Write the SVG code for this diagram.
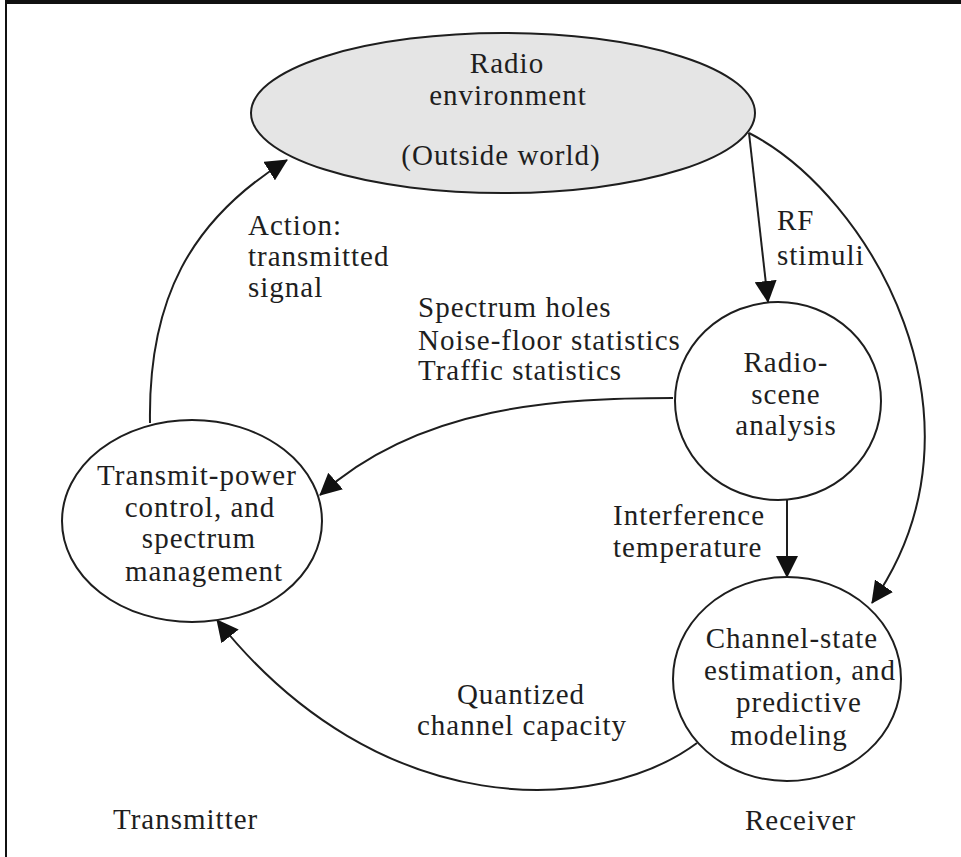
<svg xmlns="http://www.w3.org/2000/svg" width="961" height="857" viewBox="0 0 961 857">
<defs>
<style>
text{font-family:"Liberation Serif","Times New Roman",serif;font-size:29px;letter-spacing:1px;fill:#1e1e1e}
.c{text-anchor:middle}
.node{fill:#fff;stroke:#1e1e1e;stroke-width:2}
.env{fill:#e5e5e5;stroke:#1e1e1e;stroke-width:2}
.edge{fill:none;stroke:#1e1e1e;stroke-width:2;marker-end:url(#ah)}
</style>
<marker id="ah" markerUnits="userSpaceOnUse" markerWidth="22" markerHeight="22" refX="21" refY="11" orient="auto">
<path d="M0,0 L22,11 L0,22 Z" fill="#111"/>
</marker>
</defs>
<rect width="961" height="857" fill="#fff"/>
<g id="frame">
<rect x="5" y="0" width="956" height="4" fill="#111"/>
<rect x="5" y="0" width="2" height="857" fill="#111"/>
</g>
<g id="connectors">
<path class="edge" d="M749,133 L768,302"/>
<path class="edge" d="M749,133 C870,195 1000,420 872,603"/>
<path class="edge" d="M787,500 L787,577"/>
<path class="edge" d="M673,398 C560,398 420,405 320,495"/>
<path class="edge" d="M697,743 C600,815 380,825 217,620"/>
<path class="edge" d="M150,423 C148,300 190,220 287,160"/>
</g>
<g id="radio-environment">
<ellipse class="env" cx="503" cy="113" rx="252" ry="80"/>
<text class="c" x="507" y="73">Radio</text>
<text class="c" x="508" y="105">environment</text>
<text class="c" x="501" y="165">(Outside world)</text>
</g>
<g id="radio-scene-analysis">
<ellipse class="node" cx="778" cy="401" rx="103" ry="99"/>
<text class="c" x="786" y="372">Radio-</text>
<text class="c" x="786" y="404">scene</text>
<text class="c" x="786" y="435">analysis</text>
</g>
<g id="transmit-power-control">
<ellipse class="node" cx="192" cy="521" rx="130" ry="101"/>
<text class="c" x="197" y="485">Transmit-power</text>
<text class="c" x="200" y="517">control, and</text>
<text class="c" x="199" y="548">spectrum</text>
<text class="c" x="204" y="581">management</text>
</g>
<g id="channel-state-estimation">
<ellipse class="node" cx="787" cy="679" rx="114" ry="102"/>
<text class="c" x="792" y="648">Channel-state</text>
<text class="c" x="800" y="680">estimation, and</text>
<text class="c" x="799" y="712">predictive</text>
<text class="c" x="789" y="745">modeling</text>
</g>
<g id="labels">
<text x="248" y="235">Action:</text>
<text x="248" y="266">transmitted</text>
<text x="248" y="297">signal</text>
<text x="777" y="230">RF</text>
<text x="777" y="265">stimuli</text>
<text x="418" y="317">Spectrum holes</text>
<text x="418" y="350">Noise-floor statistics</text>
<text x="418" y="380">Traffic statistics</text>
<text x="613" y="525">Interference</text>
<text x="613" y="557">temperature</text>
<text class="c" x="521" y="704">Quantized</text>
<text class="c" x="522" y="735">channel capacity</text>
<text x="113" y="829">Transmitter</text>
<text x="745" y="830">Receiver</text>
</g>
</svg>
